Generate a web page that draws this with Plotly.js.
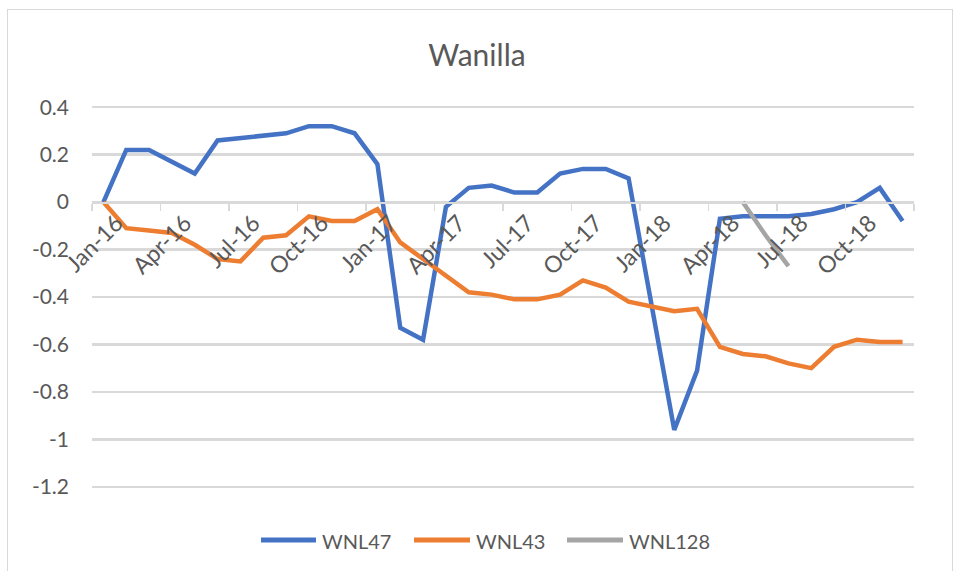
<!DOCTYPE html>
<html>
<head>
<meta charset="utf-8">
<script src="https://cdn.plot.ly/plotly-3.0.1.min.js"></script>
<style>
  html, body { margin: 0; padding: 0; background: #fff; }
  #wrap { position: relative; width: 954px; height: 571px; overflow: hidden; }
  #chart { position: absolute; left: 0; top: 0; width: 954px; height: 571px; }
  #frame { position: absolute; left: 7px; top: 9px; width: 944px; height: 600px;
           border: 1.5px solid #d9d9d9; pointer-events: none; }
</style>
</head>
<body>
<div id="wrap">
  <div id="chart"></div>
  <div id="frame"></div>
</div>
<script>
const months = [
  "Jan-16","Feb-16","Mar-16","Apr-16","May-16","Jun-16","Jul-16","Aug-16","Sep-16","Oct-16","Nov-16","Dec-16",
  "Jan-17","Feb-17","Mar-17","Apr-17","May-17","Jun-17","Jul-17","Aug-17","Sep-17","Oct-17","Nov-17","Dec-17",
  "Jan-18","Feb-18","Mar-18","Apr-18","May-18","Jun-18","Jul-18","Aug-18","Sep-18","Oct-18","Nov-18","Dec-18"
];
const wnl47 = [
  0, 0.22, 0.22, 0.17, 0.12, 0.26, 0.27, 0.28, 0.29, 0.32, 0.32, 0.29,
  0.16, -0.53, -0.58, -0.02, 0.06, 0.07, 0.04, 0.04, 0.12, 0.14, 0.14, 0.10,
  -0.44, -0.96, -0.71, -0.07, -0.06, -0.06, -0.06, -0.05, -0.03, 0.0, 0.06, -0.08
];
const wnl43 = [
  0, -0.11, -0.12, -0.13, -0.18, -0.24, -0.25, -0.15, -0.14, -0.06, -0.08, -0.08,
  -0.03, -0.17, -0.24, -0.31, -0.38, -0.39, -0.41, -0.41, -0.39, -0.33, -0.36, -0.42,
  -0.44, -0.46, -0.45, -0.61, -0.64, -0.65, -0.68, -0.70, -0.61, -0.58, -0.59, -0.59
];
const wnl128 = [
  null, null, null, null, null, null, null, null, null, null, null, null,
  null, null, null, null, null, null, null, null, null, null, null, null,
  null, null, null, null, 0.0, -0.14, -0.27, null, null, null, null, null
];
const seriesNames = ["WNL47", "WNL43", "WNL128"];
const seriesColors = ["#4472C4", "#ED7D31", "#A5A5A5"];
const yTickVals = [0.4, 0.2, 0, -0.2, -0.4, -0.6, -0.8, -1, -1.2];
const yTickText = ["0.4", "0.2", "0", "-0.2", "-0.4", "-0.6", "-0.8", "-1", "-1.2"];

const FONT = "Lato, 'Open Sans', sans-serif";
const GREY = "#595959";

const seriesData = [wnl47, wnl43, wnl128];
const traces = seriesData.map((ys, i) => ({
  x: months, y: ys, name: seriesNames[i], type: "scatter", mode: "lines",
  line: { color: seriesColors[i], width: 4.5 }, connectgaps: false, showlegend: false
}));

// plot-area geometry (pixels)
const L = 92, R = 40, T = 106, B = 83, W = 954 - L - R, H = 571 - T - B;
const yMin = -1.205, yMax = 0.405;

// legend drawn as shapes + annotations (paper coords)
const legendY = 540;
const legendItems = [
  { x0: 261, x1: 316, tx: 320 },
  { x0: 414, x1: 470, tx: 474 },
  { x0: 567, x1: 623, tx: 627 }
];
const px = v => (v - L) / W;
const py = v => (571 - B - v) / H;
const shapes = legendItems.map((it, i) => ({
  type: "line", xref: "paper", yref: "paper",
  x0: px(it.x0), x1: px(it.x1), y0: py(legendY), y1: py(legendY),
  line: { color: seriesColors[i], width: 5 }
}));
const annotations = legendItems.map((it, i) => ({
  xref: "paper", yref: "paper", x: px(it.tx), y: py(legendY + 1),
  xanchor: "left", yanchor: "middle", showarrow: false, text: seriesNames[i],
  font: { family: FONT, size: 20, color: GREY }
}));

const layout = {
  width: 954, height: 571,
  margin: { l: L, r: R, t: T, b: B },
  paper_bgcolor: "rgba(0,0,0,0)",
  plot_bgcolor: "rgba(0,0,0,0)",
  font: { family: FONT, color: GREY, size: 20 },
  title: { text: "Wanilla", font: { family: FONT, size: 30, color: GREY },
           x: 0.5, xanchor: "center", y: 1 - 55 / 571, yanchor: "middle" },
  xaxis: {
    type: "category",
    range: [-0.5, 35.5],
    dtick: 3,
    tickson: "boundaries",
    tickangle: -45,
    ticks: "outside", ticklen: 7, tickwidth: 1.5, tickcolor: "#d9d9d9",
    showgrid: false,
    showline: true, linecolor: "#d9d9d9", linewidth: 1.5,
    zeroline: false,
    anchor: "free",
    position: (0 - yMin) / (yMax - yMin),
    ticklabelshift: 13,
    ticklabelstandoff: -3,
    tickfont: { family: FONT, size: 23, color: GREY },
    fixedrange: true
  },
  yaxis: {
    range: [yMin, yMax],
    tickvals: yTickVals, ticktext: yTickText,
    showgrid: true, gridcolor: "#d9d9d9", gridwidth: 2.5,
    zeroline: false, showline: false, ticks: "",
    ticklabelstandoff: 22,
    tickfont: { family: FONT, size: 21, color: GREY },
    fixedrange: true
  },
  showlegend: false,
  shapes: shapes,
  annotations: annotations
};

Plotly.newPlot("chart", traces, layout, { displayModeBar: false, staticPlot: true });
</script>
</body>
</html>
